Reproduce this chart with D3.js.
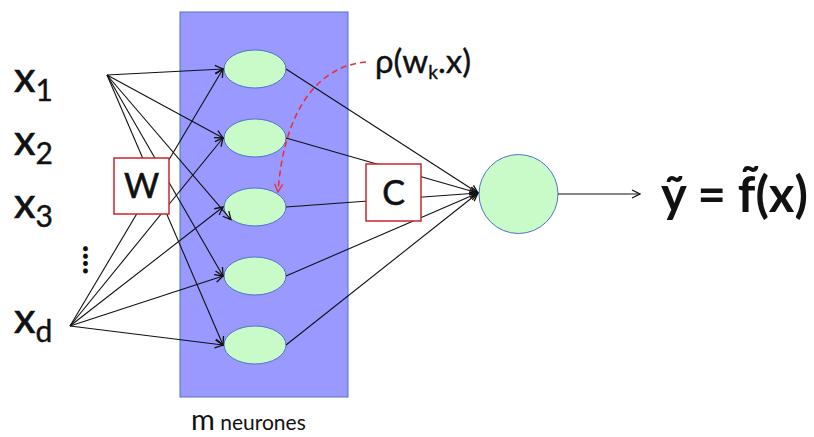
<!DOCTYPE html>
<html><head><meta charset="utf-8">
<script src="https://cdn.jsdelivr.net/npm/d3@7"></script>
<style>html,body{margin:0;padding:0;background:#fff;overflow:hidden}</style>
</head><body>
<svg id="c" width="814" height="437"></svg>
<script>
// ---- data ----
const inputBases = ["x", "x", "x", "x"];
const inputSubs = ["1", "2", "3", "d"];
const inputRows = [0, 1, 2, 3.83];          // row index of each input label
const neurons = [1, 2, 3, 4, 5];            // m hidden neurones
const sourceInputs = [0, 3];                // inputs whose edges are drawn (x1 and xd)
const edgeAngles = [[180, 180, 138, 180, 180], [180, 180, 180, 180, 180]]; // arrival angle on each neurone
const weightLabel = "W";
const outWeightLabel = "C";
const activationLabel = ["ρ(w", "k", ".x)"];
const outputLabel = "ỹ = f̃(x)";
const layerLabel = ["m", " neurones"];

// ---- layout ----
const svg = d3.select("#c");
const font = "Lato, 'Open Sans', sans-serif";
const inY = d3.scaleLinear().domain([0, 1]).range([92, 155]);
const nY = d3.scalePoint().domain(neurons).range([69, 345]);
const nX = 255, rx = 31, ry = 19;
const srcPts = [[107, 75], [70, 326]];
const outC = [518.5, 194], outR = 39.5;
const conv = [478, 193];

const defs = svg.append("defs");
function marker(id, color) {
  defs.append("marker").attr("id", id).attr("viewBox", "0 0 10 10")
    .attr("refX", 9).attr("refY", 5).attr("markerWidth", 10).attr("markerHeight", 10)
    .attr("markerUnits", "userSpaceOnUse").attr("orient", "auto")
    .append("path").attr("d", "M1,1 L9,5 L1,9").attr("fill", "none")
    .attr("stroke", color).attr("stroke-width", 1.3);
}
marker("ab", "#111");
marker("ar", "#e8313c");

// hidden layer box
svg.append("rect").attr("x", 180).attr("y", 12).attr("width", 168).attr("height", 385)
  .attr("fill", "#9999ff").attr("stroke", "#4f73c8").attr("stroke-width", 1);

// hidden neurones
svg.selectAll("ellipse.n").data(neurons).join("ellipse").attr("class", "n")
  .attr("cx", nX).attr("cy", d => nY(d)).attr("rx", rx).attr("ry", ry)
  .attr("fill", "#c8fbc8").attr("stroke", "#4f73c8").attr("stroke-width", 1);

// input -> hidden edges
const edges = [];
sourceInputs.forEach((s, si) => neurons.forEach((n, ni) => {
  const a = edgeAngles[si][ni] * Math.PI / 180;
  edges.push({ s: srcPts[si], t: [nX + rx * Math.cos(a), nY(n) + ry * Math.sin(a)] });
}));
svg.selectAll("line.e").data(edges).join("line").attr("class", "e")
  .attr("x1", d => d.s[0]).attr("y1", d => d.s[1])
  .attr("x2", d => d.t[0] - 1).attr("y2", d => d.t[1])
  .attr("stroke", "#111").attr("stroke-width", 1.1).attr("marker-end", "url(#ab)");

// hidden -> output edges
svg.selectAll("line.o").data(neurons).join("line").attr("class", "o")
  .attr("x1", nX + rx).attr("y1", d => nY(d)).attr("x2", conv[0]).attr("y2", conv[1])
  .attr("stroke", "#111").attr("stroke-width", 1.1).attr("marker-end", "url(#ab)");

// output neurone
svg.append("circle").attr("cx", outC[0]).attr("cy", outC[1]).attr("r", outR)
  .attr("fill", "#c8fbc8").attr("stroke", "#4f73c8").attr("stroke-width", 1);
svg.append("line").attr("x1", outC[0] + outR).attr("y1", outC[1]).attr("x2", 640).attr("y2", outC[1])
  .attr("stroke", "#111").attr("stroke-width", 1.1).attr("marker-end", "url(#ab)");

// weight boxes
function box(x, y, w, h, label, bx, by) {
  svg.append("rect").attr("x", x).attr("y", y).attr("width", w).attr("height", h)
    .attr("fill", "#fff").attr("stroke", "#c8262c").attr("stroke-width", 1.5);
  svg.append("text").attr("x", bx).attr("y", by).attr("text-anchor", "middle")
    .attr("font-family", font).attr("font-size", 34).attr("fill", "#111")
    .attr("stroke", "#111").attr("stroke-width", 0.6).text(label);
}
box(114, 158, 55, 56, weightLabel, 141.5, 198);
box(366, 164, 55, 57, outWeightLabel, 393.5, 205);

// input labels
const inp = svg.selectAll("text.in").data(inputBases).join("text").attr("class", "in")
  .attr("x", 14).attr("y", (d, i) => inY(inputRows[i]))
  .attr("font-family", font).attr("font-size", 43).attr("fill", "#111")
  .attr("stroke", "#111").attr("stroke-width", 0.7);
inp.append("tspan").text(d => d);
inp.append("tspan").attr("font-size", 30).attr("dy", 9).attr("stroke-width", 0.4).text((d, i) => inputSubs[i]);

// vertical dots
svg.append("text").attr("transform", `translate(83,245) rotate(90)`)
  .attr("font-family", font).attr("font-size", 31).attr("font-weight", 900)
  .attr("fill", "#111").text("....");

// activation label
const act = svg.append("text").attr("x", 375).attr("y", 73).attr("font-family", font)
  .attr("font-size", 33).attr("fill", "#111").attr("stroke", "#111").attr("stroke-width", 0.4);
act.append("tspan").text(activationLabel[0]);
act.append("tspan").attr("font-size", 19).attr("dy", 6).text(activationLabel[1]);
act.append("tspan").attr("dy", -6).text(activationLabel[2]);

// red dashed curve
svg.append("path").attr("d", "M366,62 C318,66 284,110 278,192").attr("fill", "none")
  .attr("stroke", "#e8313c").attr("stroke-width", 1.6).attr("stroke-dasharray", "6,4")
  .attr("marker-end", "url(#ar)");

// output label
svg.append("text").attr("x", 661).attr("y", 212).attr("font-family", font)
  .attr("font-size", 49).attr("font-weight", 700).attr("fill", "#111").text(outputLabel);

// layer label
const ll = svg.append("text").attr("x", 191).attr("y", 430).attr("font-family", font).attr("fill", "#111");
ll.append("tspan").attr("font-size", 29).text(layerLabel[0]);
ll.append("tspan").attr("font-size", 21).text(layerLabel[1]);
</script>
</body></html>
